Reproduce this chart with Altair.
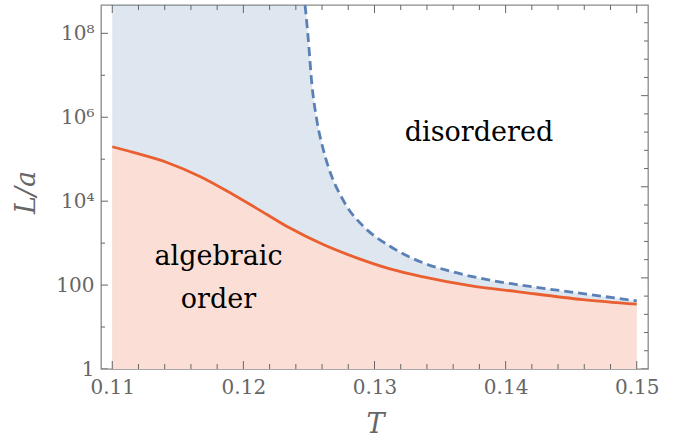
import altair as alt
import pandas as pd

# ---- data ----
orange_T = [0.11, 0.1116, 0.11417, 0.11669, 0.11921, 0.1218, 0.12355, 0.12609,
            0.12864, 0.13118, 0.13372, 0.13728, 0.14087, 0.1459, 0.15]
orange_L = [1.98e5, 1.45e5, 8.36e4, 3.87e4, 1.44e4, 4800, 2280, 923,
            445, 243, 157, 97, 70, 45, 35]

blue_T = [0.1246, 0.12495, 0.12521, 0.12559, 0.12609, 0.12674, 0.1275, 0.12788,
          0.12915, 0.13118, 0.13372, 0.13576, 0.13728, 0.13881, 0.14087, 0.1459, 0.15]
blue_L = [1e9, 7.2e7, 6.8e6, 8.9e5, 1.71e5, 3.87e4, 1.22e4, 7590,
          2520, 841, 338, 215, 164, 131, 103, 62.5, 41.9]

fill_start_T = 0.11
fill_top_L = 1e9

label_text = ["disordered", "algebraic", "order"]
label_T = [0.13797, 0.1181, 0.1181]
label_L = [2.69e5, 308, 29]

x_tick_major = [0.11, 0.12, 0.13, 0.14, 0.15]
x_tick_minor = [0.112, 0.114, 0.116, 0.118, 0.122, 0.124, 0.126, 0.128,
                0.132, 0.134, 0.136, 0.138, 0.142, 0.144, 0.146, 0.148]
y_tick_major = [1, 100, 1e4, 1e6, 1e8]
y_tick_labels = ["1", "100", "10⁴", "10⁶", "10⁸"]
y_tick_minor = [10, 1e3, 1e5, 1e7]
r_tick_major = [1, 148.41, 22026.5, 3.269e6, 4.852e8]
r_tick_minor = [2.718, 7.389, 20.09, 54.6, 403.4, 1096.6, 2981, 8103,
                59874, 162755, 442413, 1.2026e6, 8.886e6, 2.4155e7, 6.566e7, 1.785e8]

X_DOMAIN = [0.10914, 0.15086]
Y_DOMAIN = [1, 4.73e8]
W, H = 547, 364

ORANGE = "#E95F30"
BLUE = "#5B80B6"
GRAY = "#666666"
SERIF = "DejaVu Serif"

xs = alt.Scale(domain=X_DOMAIN, nice=False, zero=False)
ys = alt.Scale(type="log", domain=Y_DOMAIN, nice=False)

orange_df = pd.DataFrame({"T": orange_T, "L": orange_L})
blue_df = pd.DataFrame({"T": blue_T, "L": blue_L})
blue_fill_df = pd.DataFrame({"T": [fill_start_T] + blue_T,
                             "L": [fill_top_L] + blue_L})
labels_df = pd.DataFrame({"text": label_text, "T": label_T, "L": label_L})

label_expr = " : ".join(
    f"datum.value == {v} ? '{t}'" for v, t in zip(y_tick_major, y_tick_labels)
) + " : ''"

x_axis = alt.Axis(values=x_tick_major, format=".2f", ticks=False, tickSize=0,
                  domain=False, grid=False, labelFont=SERIF, labelFontSize=20,
                  labelColor=GRAY, labelPadding=8, labelFlush=False,
                  title="T", titleFont=SERIF, titleFontStyle="italic",
                  titleFontWeight="normal", titleFontSize=27, titleColor=GRAY,
                  titleX=274, titleY=63, titleBaseline="alphabetic")
y_axis = alt.Axis(values=y_tick_major, labelExpr=label_expr, ticks=False,
                  tickSize=0, domain=False, grid=False, labelFont=SERIF,
                  labelFontSize=20, labelColor=GRAY, labelPadding=7,
                  labelFlush=False, labelOverlap=False,
                  title="L/a", titleFont=SERIF, titleFontStyle="italic",
                  titleFontWeight="normal", titleFontSize=27, titleColor=GRAY,
                  titleX=-75, titleY=187, titleBaseline="middle",
                  titleAlign="center", titleAngle=-90)

blue_area = alt.Chart(blue_fill_df).mark_area(
    color=BLUE, opacity=0.2, interpolate="monotone", clip=True
).encode(
    x=alt.X("T:Q", scale=xs, axis=x_axis),
    y=alt.Y("L:Q", scale=ys, axis=y_axis),
    y2=alt.datum(1),
)

# opaque white base so the blue fill does not show under the orange curve
white_area = alt.Chart(orange_df).mark_area(
    color="white", opacity=1, interpolate="monotone", clip=True
).encode(
    x=alt.X("T:Q", scale=xs),
    y=alt.Y("L:Q", scale=ys),
    y2=alt.datum(1),
)

pink_area = alt.Chart(orange_df).mark_area(
    color=ORANGE, opacity=0.2, interpolate="monotone", clip=True
).encode(
    x=alt.X("T:Q", scale=xs),
    y=alt.Y("L:Q", scale=ys),
    y2=alt.datum(1),
)

orange_line = alt.Chart(orange_df).mark_line(
    color=ORANGE, strokeWidth=2.8, interpolate="monotone", clip=True
).encode(x=alt.X("T:Q", scale=xs), y=alt.Y("L:Q", scale=ys))

blue_line = alt.Chart(blue_df).mark_line(
    color=BLUE, strokeWidth=2.8, strokeDash=[9, 5], interpolate="monotone", clip=True
).encode(x=alt.X("T:Q", scale=xs), y=alt.Y("L:Q", scale=ys))

texts = alt.Chart(labels_df).mark_text(
    font=SERIF, fontSize=27, color="black", align="center", baseline="alphabetic"
).encode(x=alt.X("T:Q", scale=xs), y=alt.Y("L:Q", scale=ys), text="text:N")


def xticks(vals, length):
    df = pd.DataFrame({"T": vals})
    bottom = alt.Chart(df).mark_rule(color=GRAY, strokeWidth=1).encode(
        x=alt.X("T:Q", scale=xs), y=alt.value(H), y2=alt.value(H - length))
    top = alt.Chart(df).mark_rule(color=GRAY, strokeWidth=1).encode(
        x=alt.X("T:Q", scale=xs), y=alt.value(0), y2=alt.value(length))
    return [bottom, top]


def yticks(vals, length, side):
    df = pd.DataFrame({"L": vals})
    x0 = 0 if side == "left" else W
    x1 = length if side == "left" else W - length
    return alt.Chart(df).mark_rule(color=GRAY, strokeWidth=1, clip=True).encode(
        y=alt.Y("L:Q", scale=ys), x=alt.value(x0), x2=alt.value(x1))


tick_layers = (xticks(x_tick_major, 8) + xticks(x_tick_minor, 5) +
               [yticks(y_tick_major, 7, "left"), yticks(y_tick_minor, 4, "left"),
                yticks(r_tick_major, 7, "right"), yticks(r_tick_minor, 4, "right")])

chart = alt.layer(
    blue_area, white_area, pink_area, orange_line, blue_line, texts, *tick_layers
).properties(
    width=W, height=H,
    autosize=alt.AutoSizeParams(type="none"),
    padding={"left": 101, "top": 5, "right": 31, "bottom": 68},
).configure_view(
    stroke="#8a8a8a", strokeWidth=1.3
).configure_axis(grid=False)

chart.save("out.html", embed_options={"renderer": "svg", "actions": False})
